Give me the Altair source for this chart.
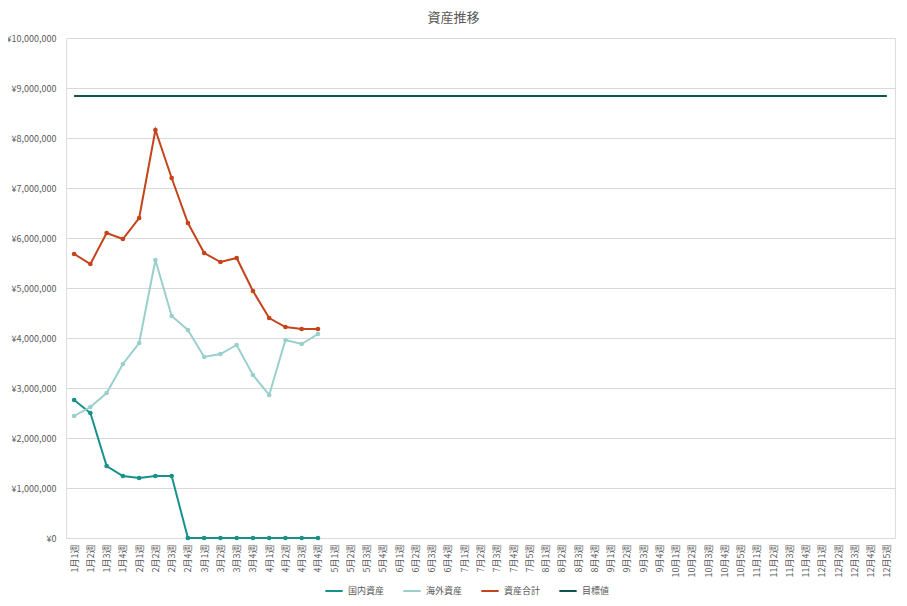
import altair as alt
import pandas as pd

months_weeks = [4, 4, 4, 4, 4, 4, 5, 4, 4, 5, 4, 5]
weeks = [f"{m}月{w}週" for m, n in enumerate(months_weeks, start=1) for w in range(1, n + 1)]

domestic = [2760000, 2500000, 1440000, 1240000, 1200000, 1240000, 1240000, 0,
            0, 0, 0, 0, 0, 0, 0, 0]
overseas = [2440000, 2620000, 2900000, 3480000, 3900000, 5560000, 4440000, 4160000,
            3620000, 3680000, 3860000, 3260000, 2860000, 3960000, 3880000, 4080000]
total = [5680000, 5480000, 6100000, 5980000, 6400000, 8160000, 7200000, 6300000,
         5700000, 5520000, 5600000, 4940000, 4400000, 4220000, 4180000, 4180000]
target_value = 8840000

series_names = ["国内資産", "海外資産", "資産合計", "目標値"]
colors = ["#17918b", "#99d0cd", "#c4441c", "#0c5450"]

rows = []
for name, vals in zip(series_names[:3], [domestic, overseas, total]):
    for wk, v in zip(weeks, vals):
        rows.append({"week": wk, "value": v, "series": name, "order": series_names.index(name)})
for wk in weeks:
    rows.append({"week": wk, "value": target_value, "series": "目標値", "order": 3})
df = pd.DataFrame(rows)

font = "Noto Sans CJK JP"

x = alt.X("week:N", sort=weeks, title=None,
          scale=alt.Scale(paddingInner=0, paddingOuter=0),
          axis=alt.Axis(labelAngle=-90, labelFontSize=9, labelColor="#595959",
                        ticks=False, domainColor="#d9d9d9", labelPadding=6,
                        labelFont=font, grid=False))
y = alt.Y("value:Q", title=None,
          scale=alt.Scale(domain=[0, 10000000]),
          axis=alt.Axis(values=list(range(0, 10000001, 1000000)),
                        labelExpr="'¥' + format(datum.value, ',')",
                        labelFontSize=9, labelColor="#595959", labelFont=font,
                        domain=False, ticks=False, gridColor="#d9d9d9", labelPadding=10))

color = alt.Color("series:N", scale=alt.Scale(domain=series_names, range=colors),
                  legend=alt.Legend(title=None, orient="none", direction="horizontal",
                                    legendX=258, legendY=543, symbolType="stroke",
                                    symbolStrokeWidth=2, symbolSize=300,
                                    labelFontSize=9, labelColor="#595959", labelFont=font,
                                    columnPadding=14))

lines = alt.Chart(df).mark_line(strokeWidth=2).encode(
    x=x, y=y, color=color, detail="series:N",
    strokeWidth=alt.condition(alt.datum.series == "目標値", alt.value(2.5), alt.value(2)),
)

points = alt.Chart(df).transform_filter(alt.datum.series != "目標値").mark_point(
    filled=True, size=22, opacity=1).encode(
    x=x, y=y,
    fill=alt.Fill("series:N", scale=alt.Scale(domain=series_names, range=colors), legend=None),
)

chart = alt.layer(lines, points).properties(
    width=829, height=500,
    title=alt.TitleParams("資産推移", fontSize=13, font=font, color="#595959",
                          fontWeight="normal", anchor="middle", dx=-27, offset=9),
    autosize=alt.AutoSizeParams(type="none"),
    padding={"left": 58, "top": 30, "right": 4, "bottom": 68},
).configure_view(stroke=None).configure(background="white")

chart.save("out.html", embed_options={"renderer": "svg", "actions": False})
